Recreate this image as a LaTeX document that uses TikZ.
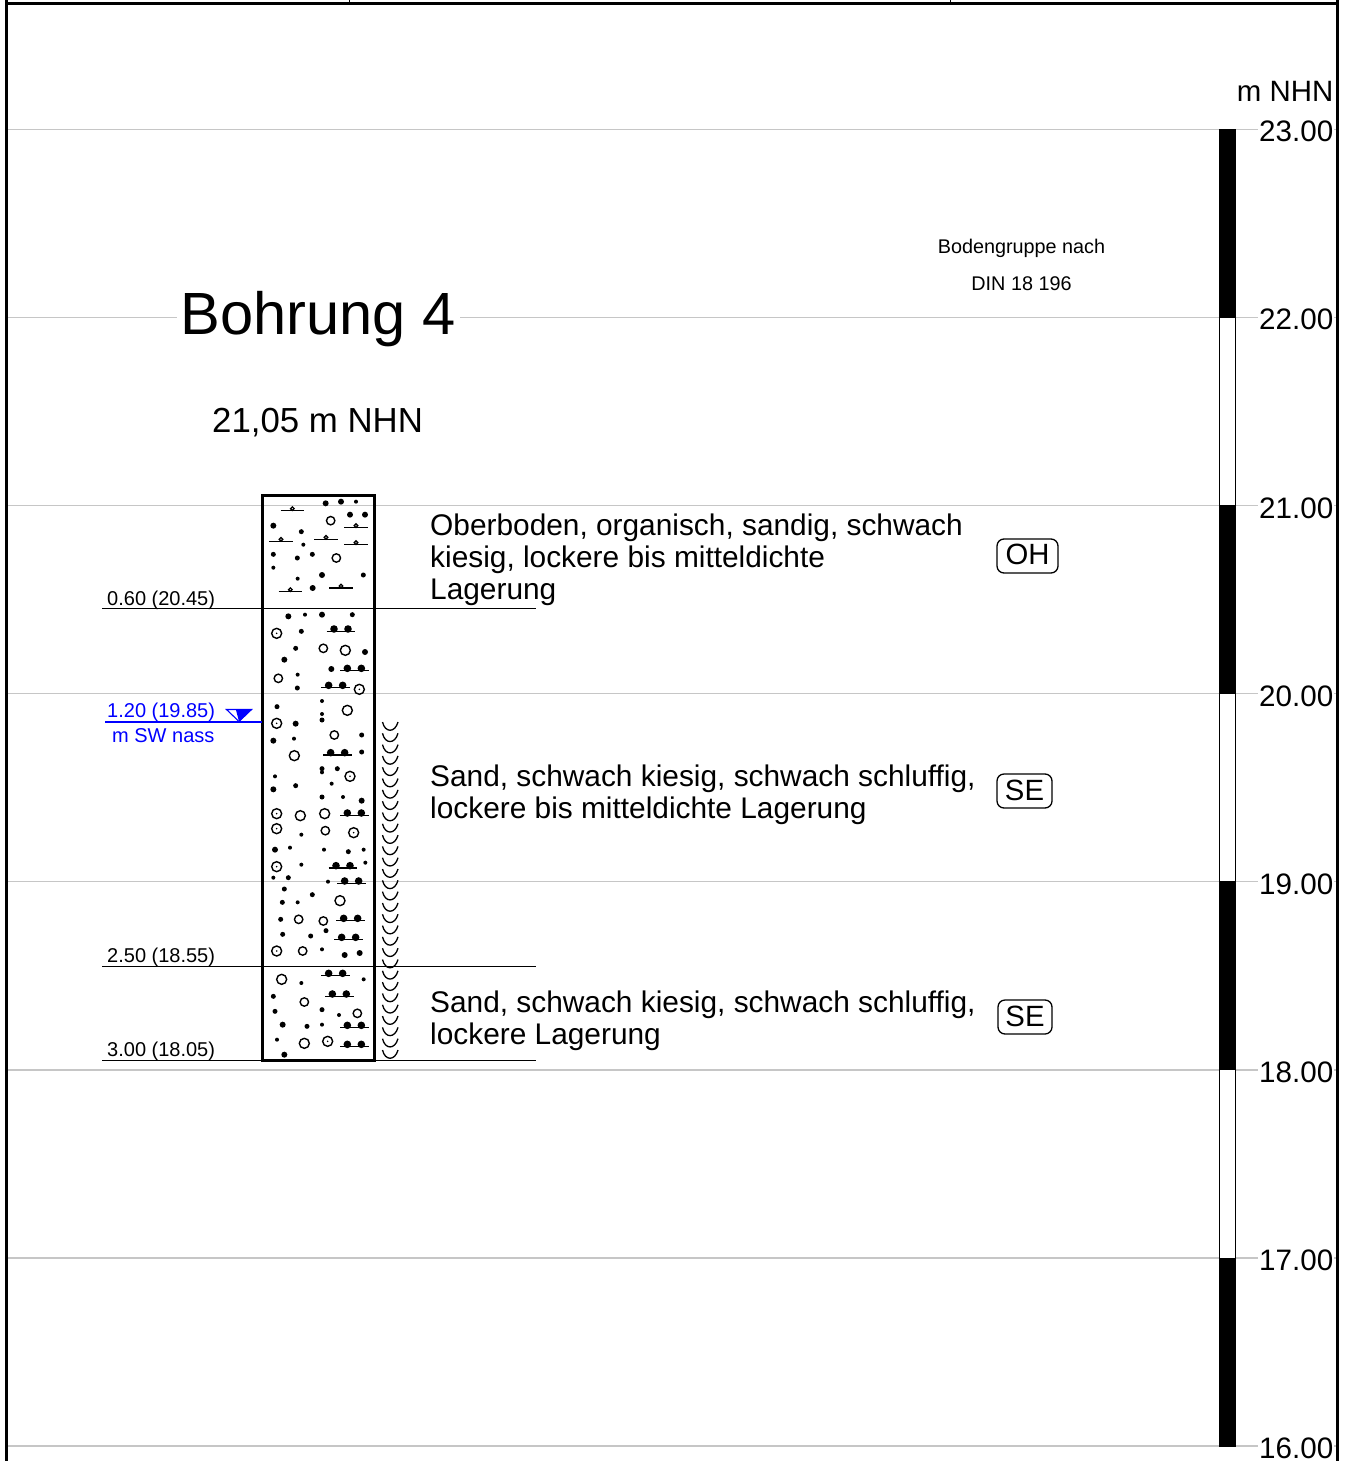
\documentclass[tikz,border=0pt]{standalone}
\usepackage{fontspec}
\setmainfont{Liberation Sans}
\newcommand{\fpx}[1]{\fontsize{#1}{#1}\selectfont}
\newcommand{\silt}[2]{%
  \draw[line width=1.2pt] (#1-43,#2) -- (#1+43,#2);
  \fill (#1-21,#2-7) circle[radius=3.8pt];
  \fill (#1+21,#2-7) circle[radius=3.8pt];}
\newcommand{\orgmark}[2]{%
  \draw[line width=1.2pt] (#1-35,#2) -- (#1+35,#2);
  \draw[line width=1.3pt,fill=white] (#1,#2-6) circle[radius=1.8pt];}
\newcommand{\ringdot}[2]{%
  \draw[ringline] (#1,#2) circle[radius=5pt];
  \fill (#1,#2) circle[radius=.9pt];}
\newcommand{\dotset}[2]{\foreach \a/\b in {#2} {\fill (\a,\b) circle[radius=#1pt];}}
\newcommand{\ringset}[2]{\foreach \a/\b in {#2} {\draw[ringline] (\a,\b) circle[radius=#1pt];}}
\tikzset{
  ringline/.style={line width=1.4pt},
  gridline/.style={line width=1.5pt,draw={rgb,255:red,198;green,198;blue,198}},
  frameline/.style={line width=2.8pt,black},
  layerline/.style={line width=1.3pt,black},
  tick label/.style={font=\fpx{29.6},fill=white,inner sep=1pt,anchor=base east},
  depth label/.style={font=\fpx{20},inner sep=0pt,anchor=base west},
  desc/.style={font=\fontsize{29.85}{32}\selectfont,align=left,anchor=north west,inner sep=0pt},
  group box/.style={draw,line width=1.3pt,rounded corners=7pt,font=\fpx{29.3},inner sep=0pt,minimum height=34pt},
  small head/.style={font=\fpx{19.8},inner sep=0pt,anchor=base},
  bar black/.style={fill=black,draw=black,line width=.8pt},
  bar white/.style={fill=white,draw=black,line width=.8pt},
  zoomed/.style={x=0.33333pt,y=-0.33333pt},
}
\definecolor{wblue}{RGB}{0,0,255}
\begin{document}
\begin{tikzpicture}[x=1pt,y=-1pt]
\useasboundingbox (0,0) rectangle (1351,1461);
% grid
\foreach \y in {129.3,317.4,505.5,693.6,881.7,1069.8,1257.9,1446} {\draw[gridline] (7,\y) -- (1337,\y);}
% frame
\draw[frameline] (6.5,0) -- (6.5,1461);
\draw[frameline] (1337.5,0) -- (1337.5,1461);
\draw[frameline] (6.5,3.3) -- (1337.5,3.3);
\draw[line width=1pt] (349,0) -- (349,3);
\draw[line width=1pt] (950,0) -- (950,3);
% scale bar
\draw[bar black] (1219.5,129.3) rectangle (1235.5,317.4);
\draw[bar white] (1219.5,317.4) rectangle (1235.5,505.5);
\draw[bar black] (1219.5,505.5) rectangle (1235.5,693.6);
\draw[bar white] (1219.5,693.6) rectangle (1235.5,881.7);
\draw[bar black] (1219.5,881.7) rectangle (1235.5,1069.8);
\draw[bar white] (1219.5,1069.8) rectangle (1235.5,1257.9);
\draw[bar black] (1219.5,1257.9) rectangle (1235.5,1446);
\node[font=\fpx{29.4},inner sep=0pt,anchor=base east] (unit) at (1333.5,102) {m NHN};
\node[tick label] (t23) at (1334.5,141.3) {23.00};
\node[tick label] (t22) at (1334.5,329.4) {22.00};
\node[tick label] (t21) at (1334.5,518.3) {21.00};
\node[tick label] (t20) at (1334.5,706.4) {20.00};
\node[tick label] (t19) at (1334.5,894.5) {19.00};
\node[tick label] (t18) at (1334.5,1082.6) {18.00};
\node[tick label] (t17) at (1334.5,1270.7) {17.00};
\node[tick label] (t16) at (1334.5,1458) {16.00};
% titles
\node[font=\fpx{59.6},fill=white,inner xsep=4pt,inner ysep=2pt,anchor=base west] (title) at (176.5,334) {Bohrung 4};
\node[font=\fpx{34.8},inner sep=0pt,anchor=base west] (elev) at (212,432) {21,05 m NHN};
\node[small head] (bg1) at (1021.5,253) {Bodengruppe nach};
\node[small head] (bg2) at (1021.5,290) {DIN 18 196};
% layer lines
\draw[layerline] (102,608.7) -- (535.5,608.7);
\draw[layerline] (102,966.2) -- (535.5,966.2);
\draw[layerline] (102,1060.2) -- (535.5,1060.2);
% symbols: upper section
\begin{scope}[shift={(255,490)},zoomed]
\dotset{3}{212/40,258/35,285/74,330/74,55/107,201/255,173/294,100/379,201/374,330/486,88/509,229/537}
\dotset{2.5}{139/125,55/193,127/204,172/193,325/255,292/374,139/424,122/475,127/594}
\dotset{2}{303/35,145/164,55/233,128/266,150/374,128/554}
\ringset{4.2}{227/92,244/204,205/475,70/565}
\ringset{5}{271/481}
\orgmark{112}{62}\orgmark{303}{113}\orgmark{78}{154}\orgmark{213}{148}\orgmark{303}{164}\orgmark{106}{305}\orgmark{258}{294}
\ringdot{65}{430}\ringdot{313}{598}
\silt{258}{424}\silt{298}{542}\silt{242}{593}
\end{scope}
% symbols: middle section
\begin{scope}[shift={(255,690)},zoomed]
\dotset{3}{122/101,55/152,55/298,320/332,60/479}
\dotset{2.5}{66/50,201/90,320/135,320/186,201/236,247/236,122/287,201/321,280/485,100/563}
\dotset{2}{201/33,201/72,117/146,201/247,60/259,230/281,264/321,139/434,105/473,207/479,326/479,139/524,331/518,55/563}
\ringset{5}{277/61,118/197,136/377,209/371}
\ringset{4.2}{238/135,211/422}
\ringdot{65}{100}\ringdot{285}{259}\ringdot{65}{371}\ringdot{65}{416}\ringdot{296}{428}\ringdot{65}{530}
\silt{248}{195}\silt{298}{376}\silt{264}{534}
\end{scope}
% symbols: lower section
\begin{scope}[shift={(255,880)},zoomed]
\dotset{3}{269/225,314/219,83/434,88/524}
\dotset{2.5}{88/27,172/44,82/67,77/118,83/163,167/168,213/152,55/349,60/394,201/389,156/439}
\dotset{2}{219/5,128/67,201/208,326/298,139/309,252/405,201/434,66/479}
\ringset{5}{255/62,80/298,148/490}
\ringset{4.2}{131/118,205/123,143/213,148/366,307/400}
\ringdot{65}{213}\ringdot{218}{484}
\silt{290}{10}\silt{287}{122}\silt{281}{179}\silt{242}{287}\silt{253}{349}\silt{298}{443}\silt{298}{500}
\end{scope}
% column
\draw[line width=3pt] (262.5,495.5) rectangle (374.5,1060.2);
% wet marks
\foreach \i in {0,...,29} {
  \pgfmathsetmacro{\wy}{722+11.31*\i}
  \draw[line width=1.3pt] (382.5,\wy) .. controls (385,\wy+11) and (395,\wy+11) .. (398,\wy);
}
% water level
\coordinate (wl) at (105,722);
\coordinate (wr) at (262,722);
\draw[wblue,line width=1.4pt] (wl) -- (wr);
\draw[wblue,line width=1.1pt,line join=miter] (226.5,709.5) -- (251.5,709.5) -- (239,721.5) -- cycle;
\fill[wblue] (236,710) -- (251.5,710) -- (239,721.5) -- cycle;
% labels
\node[depth label] (d1) at (107,605) {0.60 (20.45)};
\node[depth label,text=wblue] (d2) at (107,717) {1.20 (19.85)};
\node[depth label,text=wblue] (d2b) at (112,742) {m SW nass};
\node[depth label] (d3) at (107,962) {2.50 (18.55)};
\node[depth label] (d4) at (107,1056) {3.00 (18.05)};
% descriptions
\node[desc] (s1) at (430,514) {Oberboden, organisch, sandig, schwach\\kiesig, lockere bis mitteldichte\\Lagerung};
\node[desc] (s2) at (430,765) {Sand, schwach kiesig, schwach schluffig,\\lockere bis mitteldichte Lagerung};
\node[desc] (s3) at (430,991) {Sand, schwach kiesig, schwach schluffig,\\lockere Lagerung};
% groups
\node[group box,minimum width=61pt] (g1) at (1027.5,556) {\raisebox{2.5pt}{OH}\hspace{3pt}};
\node[group box,minimum width=55pt] (g2) at (1024.5,791) {\raisebox{.5pt}{SE}\hspace{1pt}};
\node[group box,minimum width=54pt] (g3) at (1025,1017) {\raisebox{.5pt}{SE}\hspace{1pt}};
\end{tikzpicture}
\end{document}
